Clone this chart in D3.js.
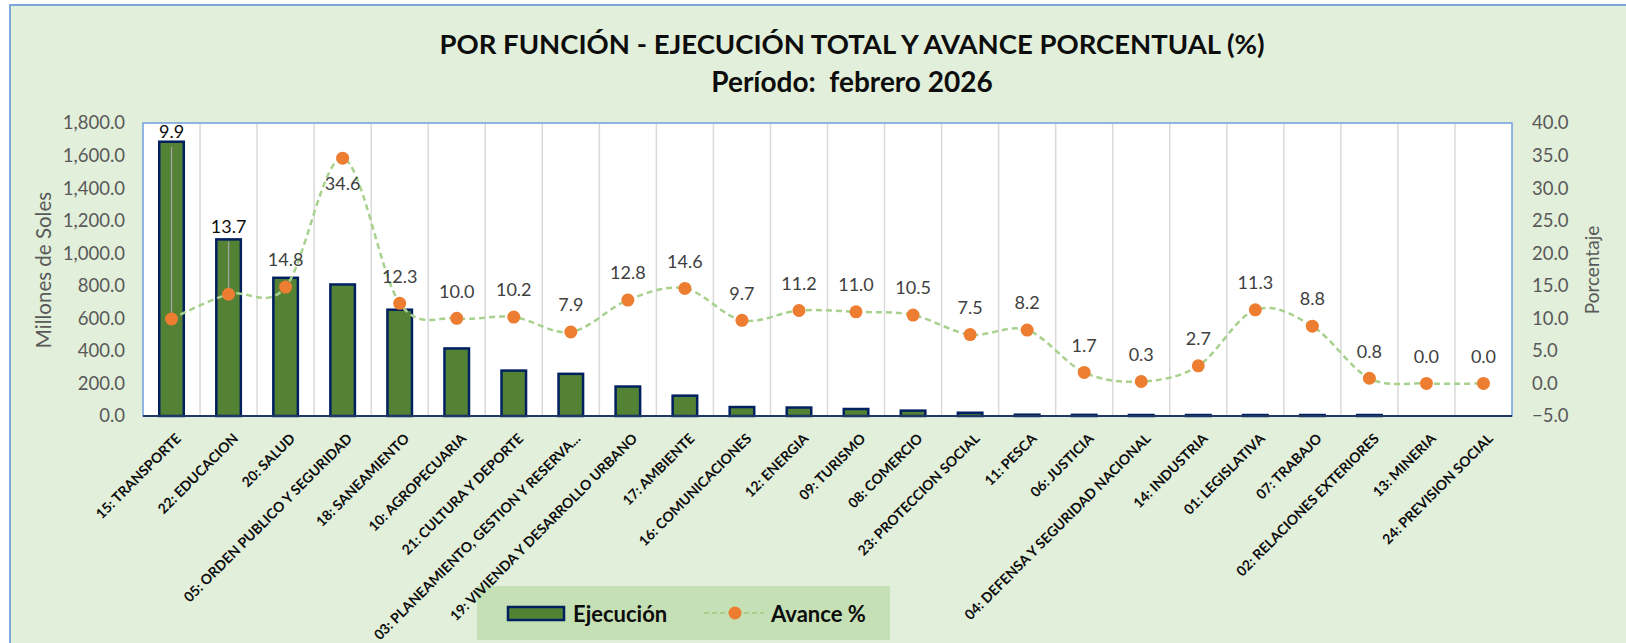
<!DOCTYPE html>
<html>
<head>
<meta charset="utf-8">
<script src="https://cdn.jsdelivr.net/npm/d3@7"></script>
<style>
    body { margin: 0; background: #ffffff; }
    svg { display: block; font-family: Lato, "Open Sans", sans-serif; }
</style>
</head>
<body>
<svg width="1626" height="643"></svg>
<script>
// data
var categorias = [
    "15: TRANSPORTE", "22: EDUCACION", "20: SALUD", "05: ORDEN PUBLICO Y SEGURIDAD",
    "18: SANEAMIENTO", "10: AGROPECUARIA", "21: CULTURA Y DEPORTE",
    "03: PLANEAMIENTO, GESTION Y RESERVA...", "19: VIVIENDA Y DESARROLLO URBANO",
    "17: AMBIENTE", "16: COMUNICACIONES", "12: ENERGIA", "09: TURISMO", "08: COMERCIO",
    "23: PROTECCION SOCIAL", "11: PESCA", "06: JUSTICIA", "04: DEFENSA Y SEGURIDAD NACIONAL",
    "14: INDUSTRIA", "01: LEGISLATIVA", "07: TRABAJO", "02: RELACIONES EXTERIORES",
    "13: MINERIA", "24: PREVISION SOCIAL"
];
var ejecucion = [1685, 1085, 849, 808, 653, 415, 279, 259, 181, 125, 55, 52, 43, 33, 20, 8, 7, 6, 6, 6, 6, 6, 0, 0];
var avance = [9.9, 13.7, 14.8, 34.6, 12.3, 10.0, 10.2, 7.9, 12.8, 14.6, 9.7, 11.2, 11.0, 10.5, 7.5, 8.2, 1.7, 0.3, 2.7, 11.3, 8.8, 0.8, 0.0, 0.0];
var ticksSoles = [0, 200, 400, 600, 800, 1000, 1200, 1400, 1600, 1800];
var ticksPct = [-5, 0, 5, 10, 15, 20, 25, 30, 35, 40];
var titulo = "POR FUNCIÓN - EJECUCIÓN TOTAL Y AVANCE PORCENTUAL (%)";
var subtitulo = "Período:  febrero 2026";

var plot = { left: 143, right: 1512, top: 123, bottom: 416 };

var svg = d3.select("svg");

//chart background and outer border
svg.append("rect")
    .attr("x", 10).attr("y", 5)
    .attr("width", 1640).attr("height", 660)
    .attr("fill", "#E2EFDA")
    .attr("stroke", "#7DA7D9")
    .attr("stroke-width", 2);

//titles
svg.append("text")
    .attr("x", 852).attr("y", 54)
    .attr("text-anchor", "middle")
    .attr("font-size", 27.5).attr("font-weight", "bold")
    .attr("fill", "#0D0D0D")
    .text(titulo);
svg.append("text")
    .attr("x", 852).attr("y", 92)
    .attr("text-anchor", "middle")
    .attr("font-size", 28).attr("font-weight", "bold")
    .attr("fill", "#0D0D0D")
    .style("white-space", "pre")
    .text(subtitulo);

var xScale = d3.scaleBand()
    .domain(categorias)
    .range([plot.left, plot.right])
    .paddingInner(0.57)
    .paddingOuter(0.285);

var xBand = d3.scaleBand()
    .domain(categorias)
    .range([plot.left, plot.right]);

var yScale = d3.scaleLinear()
    .domain([0, 1800])
    .range([plot.bottom, plot.top]);

var yPct = d3.scaleLinear()
    .domain([-5, 40])
    .range([plot.bottom, plot.top]);

//plot area
svg.append("rect")
    .attr("x", plot.left).attr("y", plot.top)
    .attr("width", plot.right - plot.left)
    .attr("height", plot.bottom - plot.top)
    .attr("fill", "#ffffff")
    .attr("stroke", "#6FA0DC")
    .attr("stroke-width", 1.5);

//vertical gridlines between categories
svg.append("g")
    .selectAll("line")
    .data(categorias.slice(1))
    .enter().append("line")
    .attr("x1", function (d) { return xBand(d); })
    .attr("x2", function (d) { return xBand(d); })
    .attr("y1", plot.top + 1)
    .attr("y2", plot.bottom)
    .attr("stroke", "#D9D9D9")
    .attr("stroke-width", 1.5);

//bars
svg.append("g")
    .selectAll("rect")
    .data(ejecucion)
    .enter().append("rect")
    .attr("x", function (d, i) { return xScale(categorias[i]); })
    .attr("y", function (d) { return yScale(d); })
    .attr("width", xScale.bandwidth())
    .attr("height", function (d) { return plot.bottom - yScale(d); })
    .attr("fill", "#548235")
    .attr("stroke", "#002060")
    .attr("stroke-width", function (d) { return d > 0 ? 2.5 : 0; });

//bottom axis line
svg.append("line")
    .attr("x1", plot.left).attr("x2", plot.right)
    .attr("y1", plot.bottom).attr("y2", plot.bottom)
    .attr("stroke", "#203864")
    .attr("stroke-width", 2);

//left axis
var axisLeft = svg.append("g")
    .attr("transform", "translate(" + (plot.left - 18) + ",0)")
    .call(d3.axisLeft(yScale).tickValues(ticksSoles).tickSize(0).tickPadding(0).tickFormat(d3.format(",.1f")));
axisLeft.select(".domain").remove();
axisLeft.selectAll("text")
    .attr("font-family", "Lato, sans-serif")
    .attr("font-size", 18.5)
    .attr("fill", "#595959");

//right axis
var axisRight = svg.append("g")
    .attr("transform", "translate(" + (plot.right + 20) + ",0)")
    .call(d3.axisRight(yPct).tickValues(ticksPct).tickSize(0).tickPadding(0).tickFormat(d3.format(".1f")));
axisRight.select(".domain").remove();
axisRight.selectAll("text")
    .attr("font-family", "Lato, sans-serif")
    .attr("font-size", 18.5)
    .attr("fill", "#595959");

//axis titles
svg.append("text")
    .attr("transform", "translate(51,270)rotate(-90)")
    .attr("text-anchor", "middle")
    .attr("font-size", 20.5)
    .attr("fill", "#595959")
    .text("Millones de Soles");
svg.append("text")
    .attr("transform", "translate(1599,270)rotate(-90)")
    .attr("text-anchor", "middle")
    .attr("font-size", 19)
    .attr("fill", "#595959")
    .text("Porcentaje");

//legend (category labels are drawn over it)
var legend = svg.append("g");
legend.append("rect")
    .attr("x", 477).attr("y", 586)
    .attr("width", 413).attr("height", 54)
    .attr("fill", "#C5E0B4");
legend.append("rect")
    .attr("x", 508).attr("y", 607)
    .attr("width", 56).attr("height", 13)
    .attr("fill", "#548235")
    .attr("stroke", "#002060")
    .attr("stroke-width", 2.5);
legend.append("text")
    .attr("x", 573).attr("y", 614)
    .attr("dy", "0.35em")
    .attr("font-size", 22).attr("font-weight", "bold")
    .attr("fill", "#0D0D0D")
    .text("Ejecución");
legend.append("line")
    .attr("x1", 704).attr("x2", 764)
    .attr("y1", 613).attr("y2", 613)
    .attr("stroke", "#A9D18E")
    .attr("stroke-width", 2)
    .attr("stroke-dasharray", "5,3");
legend.append("circle")
    .attr("cx", 735).attr("cy", 613)
    .attr("r", 6.5)
    .attr("fill", "#ED7D31");
legend.append("text")
    .attr("x", 771).attr("y", 614)
    .attr("dy", "0.35em")
    .attr("font-size", 22).attr("font-weight", "bold")
    .attr("fill", "#0D0D0D")
    .text("Avance %");

//category labels
svg.append("g")
    .selectAll("text")
    .data(categorias)
    .enter().append("text")
    .attr("transform", function (d) {
        return "translate(" + (xBand(d) + xBand.bandwidth() / 2 + 7) + "," + (plot.bottom + 20) + ")rotate(-45)";
    })
    .attr("text-anchor", "end")
    .attr("dy", "0.35em")
    .attr("font-size", 14)
    .attr("font-weight", "bold")
    .attr("fill", "#0D0D0D")
    .text(function (d) { return d; });

//percent line, excel style smoothing
var cx = function (i) { return xBand(categorias[i]) + xBand.bandwidth() / 2; };

var line = d3.line()
    .x(function (d, i) { return cx(i); })
    .y(function (d) { return yPct(d); })
    .curve(d3.curveCardinal.tension(0));

svg.append("path")
    .datum(avance)
    .attr("d", line)
    .attr("fill", "none")
    .attr("stroke", "#A9D18E")
    .attr("stroke-width", 2.5)
    .attr("stroke-dasharray", "6,4");

//label positions: the first two were dragged above their bars, 34.6 sits below the point
function labelY(d, i) {
    if (i == 0) return yScale(ejecucion[i]) - 10;
    if (i == 1) return yScale(ejecucion[i]) - 13;
    if (i == 3) return yPct(d) + 26;
    return yPct(d) - 27;
}

//leader lines
svg.append("g")
    .selectAll("line")
    .data([0, 1])
    .enter().append("line")
    .attr("x1", function (i) { return cx(i); })
    .attr("x2", function (i) { return cx(i); })
    .attr("y1", function (i) { return labelY(avance[i], i) + 15; })
    .attr("y2", function (i) { return yPct(avance[i]); })
    .attr("stroke", "#A6A6A6")
    .attr("stroke-width", 1.2);

svg.append("g")
    .selectAll("circle")
    .data(avance)
    .enter().append("circle")
    .attr("cx", function (d, i) { return cx(i); })
    .attr("cy", function (d) { return yPct(d); })
    .attr("r", 6.5)
    .attr("fill", "#ED7D31");

svg.append("g")
    .selectAll("text")
    .data(avance)
    .enter().append("text")
    .attr("x", function (d, i) { return cx(i); })
    .attr("y", labelY)
    .attr("dy", "0.35em")
    .attr("text-anchor", "middle")
    .attr("font-size", 18)
    .attr("fill", function (d, i) { return i < 2 ? "#0D0D0D" : "#404040"; })
    .text(function (d) { return d3.format(".1f")(d); });
</script>
</body>
</html>
